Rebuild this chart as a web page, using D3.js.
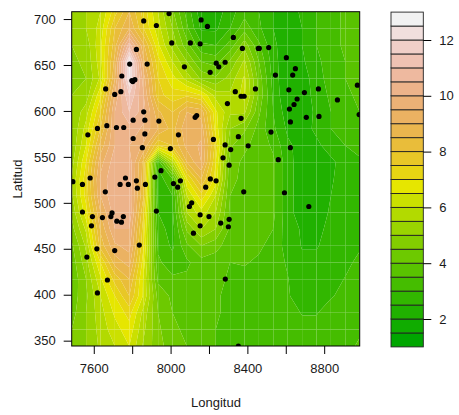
<!DOCTYPE html>
<html>
<head>
<meta charset="utf-8">
<script src="https://cdn.jsdelivr.net/npm/d3@7"></script>
<style>
  html, body { margin: 0; padding: 0; background: #fff; }
  text { font-family: "Liberation Sans", Arial, sans-serif; font-size: 13px; fill: #1a1a1a; }
</style>
</head>
<body>
<div id="graph"></div>
<script>
// sample sites
var lon = [7992,7860,7926,8159,8192,8006,8103,8154,7822,7787,7878,8072,8238,8251,8206,7746,7798,7814,7803,7662,7741,7709,7860,8136,8128,7805,7866,7939,7668,7619,7718,7756,7569,7866,8041,7805,8223,7853,7999,7950,7581,7765,7822,7918,8051,8207,8237,7491,7541,7737,7780,7827,7869,8015,8037,8183,7660,8110,8098,7541,7593,7645,7695,7689,7754,7720,7744,7588,7926,8154,8200,8154,8119,8261,7616,7709,7837,7564,7671,7619,8327,8374,8457,8462,8511,8603,8284,8650,8546,8636,8337,8383,8367,8442,8616,8697,8770,8973,8659,8869,8296,8643,8619,8982,8367,8707,8773,8624,8523,8353,8284,8404,8624,8313,8273,8561,8305,8381,8593,8720,8305,8301,8285,8353];
var lat = [706,698,693,699,692,674,674,673,667,651,651,648,652,648,642,638,633,634,632,624,621,618,599,595,593,590,590,589,584,581,582,582,574,575,574,570,569,560,559,535,527,527,524,528,524,526,524,523,520,520,520,516,520,521,517,517,512,500,496,490,485,484,489,485,485,480,479,475,491,487,485,475,467,478,450,448,454,441,416,402,680,668,668,668,669,658,653,646,639,639,621,616,616,624,623,620,624,628,613,612,608,607,602,596,592,593,594,588,577,572,563,562,560,558,549,547,541,512,511,496,482,474,417,344];

// interpolated surface, rows from north to south, columns west to east
var surface = [
  [5.3,5.5,6.0,7.3,8.5,7.3,6.0,4.6,3.3,2.2,2.2,2.8,3.3,3.0,2.5,2.2,2.6,3.0,3.3,3.6,3.8],
  [5.2,5.5,6.2,8.0,9.0,7.5,6.2,5.0,3.6,2.4,2.4,3.0,3.8,3.1,2.5,2.2,2.5,3.0,3.3,3.6,3.8],
  [5.0,5.2,6.4,8.3,10.8,8.6,6.6,5.3,4.2,3.1,3.0,3.7,4.8,3.6,2.6,2.2,2.5,3.0,3.3,3.6,3.8],
  [4.9,5.1,6.3,8.7,12.7,9.1,7.2,6.0,5.0,4.0,3.8,4.6,5.6,4.0,2.7,2.1,2.4,2.9,3.2,3.5,3.7],
  [4.9,5.0,6.1,9.0,12.5,9.7,7.5,6.7,5.8,4.9,4.6,5.2,6.1,4.3,2.8,2.0,2.2,2.8,3.2,3.5,3.7],
  [5.0,5.2,6.9,9.6,11.5,10.0,7.7,7.2,7.4,7.0,5.8,5.6,6.2,4.4,2.9,2.0,2.2,2.7,3.1,3.4,3.6],
  [5.0,5.8,7.5,10.0,11.0,10.2,8.6,8.0,9.0,8.8,6.6,5.6,5.6,4.1,3.0,2.2,2.2,2.6,3.0,3.3,3.5],
  [5.0,6.2,8.0,10.0,10.3,9.9,9.0,8.3,9.4,9.3,6.8,5.0,4.6,3.8,3.1,2.4,2.3,2.6,3.0,3.3,3.4],
  [5.1,6.5,8.7,10.0,10.0,9.4,7.5,8.0,9.2,9.6,7.3,4.6,4.1,3.8,3.4,2.6,2.3,2.4,2.7,3.0,3.2],
  [5.3,7.0,9.3,10.3,10.3,8.3,3.2,5.8,8.5,9.5,7.0,4.2,3.9,3.8,3.6,2.7,2.2,2.2,2.4,2.7,2.9],
  [5.5,7.3,9.6,10.5,10.3,8.2,2.7,3.5,7.0,8.5,6.8,4.1,3.9,3.8,3.6,2.7,2.2,2.2,2.45,2.7,2.9],
  [5.4,7.2,9.5,10.5,10.3,8.0,2.8,3.0,6.0,7.3,6.0,4.0,3.9,3.8,3.6,2.7,2.2,2.2,2.5,2.7,2.9],
  [5.1,6.8,9.0,10.3,10.4,7.5,3.0,2.9,5.5,6.3,5.5,3.9,3.8,3.8,3.6,2.7,2.2,2.3,2.55,2.75,2.9],
  [4.8,6.1,8.6,10.0,10.0,7.2,3.2,2.8,4.6,5.5,5.0,3.9,3.8,3.7,3.5,2.7,2.45,2.4,2.6,2.8,2.95],
  [4.4,5.6,8.2,9.4,9.7,7.0,3.4,2.9,3.9,4.5,4.2,3.7,3.6,3.6,3.3,2.8,2.47,2.47,2.65,2.8,2.95],
  [4.2,5.3,7.0,8.7,9.2,6.7,3.6,3.2,3.4,3.8,3.7,3.5,3.55,3.4,3.2,2.95,2.6,2.6,2.75,2.9,3.1],
  [4.1,5.0,6.4,7.7,8.5,6.4,3.9,3.6,3.6,3.8,3.7,3.4,3.3,3.2,3.1,3.02,2.7,2.7,2.85,3.02,3.2],
  [4.2,4.9,6.0,7.0,8.0,6.4,4.3,3.9,3.7,3.6,3.6,3.3,3.2,3.2,3.1,3.05,2.75,2.8,2.97,3.1,3.2],
  [4.3,5.0,5.8,6.6,7.2,5.8,4.5,4.0,3.8,3.6,3.6,3.3,3.2,3.1,3.1,3.15,2.98,2.98,3.15,3.2,3.3],
  [4.5,5.0,5.7,6.3,6.8,5.6,4.6,4.1,3.9,3.7,3.5,3.2,3.1,3.1,3.1,3.1,3.1,3.1,3.2,3.3,3.4],
  [4.5,5.0,5.6,6.0,6.5,5.4,4.7,4.2,4.0,3.7,3.5,3.2,3.1,3.1,3.1,3.1,3.1,3.1,3.2,3.3,3.6]
];

var gridLon = d3.range(7485, 8986, 75);
var gridLat = d3.range(708, 343, -18.2);
var levels = d3.range(1, 13.01, 0.5);
var xTicks = [7600,7800,8000,8200,8400,8600,8800];
var xLabels = [7600,8000,8400,8800];
var yTicks = [350,400,450,500,550,600,650,700];
var keyTicks = [2,4,6,8,10,12];

// same ramp as R terrain.colors(24)
function hsv(h, s, v) {
  var f = function(n) { var k = (n + h * 6) % 6; return v - v * s * Math.max(0, Math.min(k, 4 - k, 1)); };
  return d3.rgb(f(5) * 255, f(3) * 255, f(1) * 255).formatHex();
}
var low = d3.range(12).map(function(i) { var t = i / 11; return hsv(4/12 - t * 2/12, 1, 0.65 + t * 0.25); });
var high = d3.range(1, 13).map(function(i) { var t = i / 12; return hsv(2/12 - t * 2/12, 1 - t, 0.9 + t * 0.05); });
var colors = low.concat(high);

var width = 459, height = 415;
var plot = {left: 71.7, right: 359.7, top: 11.7, bottom: 346};

var x = d3.scaleLinear().domain([7485, 8985]).range([plot.left, plot.right]);
var y = d3.scaleLinear().domain([344.2, 708]).range([plot.bottom, plot.top]);
var keyY = d3.scaleLinear().domain([1, 13]).range([346.9, 12.1]);

var svg = d3.select("#graph")
  .append("svg")
    .attr("width", width)
    .attr("height", height)
    .style("display", "block");

svg.append("clipPath").attr("id", "plot-clip")
  .append("rect")
    .attr("x", plot.left)
    .attr("y", plot.top)
    .attr("width", plot.right - plot.left)
    .attr("height", plot.bottom - plot.top);

// cut a polygon down to the part above (sign 1) or below (sign -1) a level
function clip(poly, level, sign) {
  var out = [];
  poly.forEach(function(p, i) {
    var q = poly[(i + 1) % poly.length];
    var a = (p[2] - level) * sign, b = (q[2] - level) * sign;
    if (a >= 0) out.push(p);
    if ((a >= 0) !== (b >= 0)) {
      var t = a / (a - b);
      out.push([p[0] + t * (q[0] - p[0]), p[1] + t * (q[1] - p[1]), level]);
    }
  });
  return out;
}

// one polygon per grid cell and band, the way filled.contour paints it
var bands = [];
d3.range(20).forEach(function(r) {
  d3.range(20).forEach(function(c) {
    var cell = [
      [gridLon[c], gridLat[r], surface[r][c]],
      [gridLon[c + 1], gridLat[r], surface[r][c + 1]],
      [gridLon[c + 1], gridLat[r + 1], surface[r + 1][c + 1]],
      [gridLon[c], gridLat[r + 1], surface[r + 1][c]]
    ];
    d3.range(colors.length).forEach(function(b) {
      var poly = clip(clip(cell, levels[b], 1), levels[b + 1], -1);
      if (poly.length > 2) bands.push({poly: poly, band: b});
    });
  });
});

var ring = d3.line()
  .x(function(d) { return x(d[0]); })
  .y(function(d) { return y(d[1]); })
  .curve(d3.curveLinearClosed);

svg.append("g")
  .attr("clip-path", "url(#plot-clip)")
  .selectAll("path")
  .data(bands)
  .enter()
  .append("path")
    .attr("d", function(d) { return ring(d.poly); })
    .style("fill", function(d) { return colors[d.band]; });

// sample sites
svg.append("g")
  .attr("clip-path", "url(#plot-clip)")
  .selectAll("circle")
  .data(lon)
  .enter()
  .append("circle")
    .attr("cx", function(d) { return x(d); })
    .attr("cy", function(d, i) { return y(lat[i]); })
    .attr("r", 2.6)
    .style("fill", "#000");

svg.append("rect")
  .attr("x", plot.left)
  .attr("y", plot.top)
  .attr("width", plot.right - plot.left)
  .attr("height", plot.bottom - plot.top)
  .style("fill", "none")
  .style("stroke", "#000");

// axes
var xAxis = svg.append("g")
  .attr("transform", "translate(0," + plot.bottom + ")")
  .call(d3.axisBottom(x)
    .tickValues(xTicks)
    .tickSize(8)
    .tickPadding(10)
    .tickFormat(function(d) { return xLabels.indexOf(d) >= 0 ? d : ""; }));
var yAxis = svg.append("g")
  .attr("transform", "translate(" + plot.left + ",0)")
  .call(d3.axisLeft(y)
    .tickValues(yTicks)
    .tickSize(8)
    .tickPadding(8));

// colour key
var keyLeft = 391, keyRight = 423.3;
svg.append("g")
  .selectAll("rect")
  .data(colors)
  .enter()
  .append("rect")
    .attr("x", keyLeft)
    .attr("width", keyRight - keyLeft)
    .attr("y", function(d, i) { return keyY(levels[i + 1]); })
    .attr("height", function(d, i) { return keyY(levels[i]) - keyY(levels[i + 1]); })
    .style("fill", function(d) { return d; })
    .style("stroke", "#222")
    .style("stroke-width", 0.9);

var keyAxis = svg.append("g")
  .attr("transform", "translate(" + keyRight + ",0)")
  .call(d3.axisRight(keyY)
    .tickValues(keyTicks)
    .tickSize(8)
    .tickPadding(8));

[xAxis, yAxis, keyAxis].forEach(function(a) {
  a.select(".domain").remove();
  a.attr("font-family", null).attr("font-size", null);
});

svg.append("text")
  .attr("x", 216)
  .attr("y", 407)
  .attr("text-anchor", "middle")
  .text("Longitud");

svg.append("text")
  .attr("transform", "translate(22,179) rotate(-90)")
  .attr("text-anchor", "middle")
  .text("Latitud");
</script>
</body>
</html>
